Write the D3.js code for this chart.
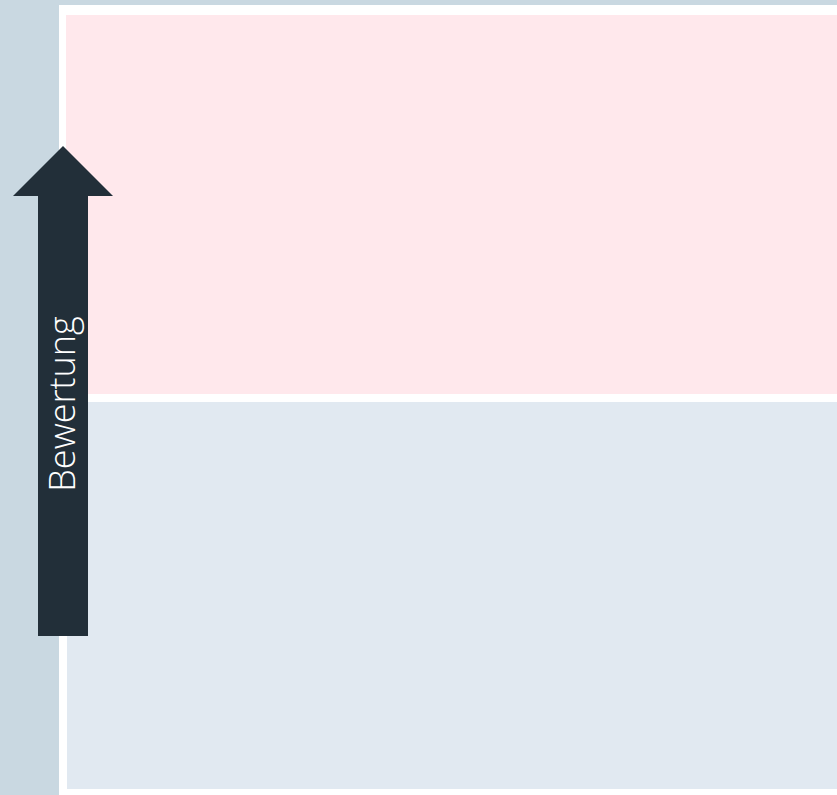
<!DOCTYPE html>
<html>
<head>
<meta charset="utf-8">
<script src="https://cdn.jsdelivr.net/npm/d3@7"></script>
<style>
  html, body { margin: 0; padding: 0; background: #c9d8e1; }
  svg { display: block; }
</style>
</head>
<body>
<svg id="chart" width="837" height="795"></svg>
<script>
// Data
const bandNames = ["hoch", "niedrig"];
const bandFrom = [50, 0];
const bandTo = [100, 50];
const bandColors = ["#ffe8ec", "#e1e9f1"];
const axisLabel = ["Bewertung"];

const W = 837, H = 795;
const svg = d3.select("#chart");

svg.append("rect").attr("width", W).attr("height", H).attr("fill", "#c9d8e1");
svg.append("rect").attr("x", 59).attr("y", 5).attr("width", W - 59).attr("height", H - 5).attr("fill", "#ffffff");

const y = d3.scaleLinear().domain([0, 100]).range([789, 15]);
const gap = 8;

svg.selectAll("rect.band").data(bandNames).join("rect")
  .attr("class", "band")
  .attr("x", (d, i) => i === 0 ? 66 : 67)
  .attr("y", (d, i) => y(bandTo[i]))
  .attr("width", (d, i) => W - (i === 0 ? 66 : 67))
  .attr("height", (d, i) => y(bandFrom[i]) - y(bandTo[i]) - (bandTo[i] < 100 ? 0 : gap))
  .attr("fill", (d, i) => bandColors[i]);

// Arrow
const ax = 63, tipY = 146, headY = 196, headHalf = 50, shaftHalf = 25, bottomY = 636;
const arrow = d3.path();
arrow.moveTo(ax, tipY);
arrow.lineTo(ax + headHalf, headY);
arrow.lineTo(ax + shaftHalf, headY);
arrow.lineTo(ax + shaftHalf, bottomY);
arrow.lineTo(ax - shaftHalf, bottomY);
arrow.lineTo(ax - shaftHalf, headY);
arrow.lineTo(ax - headHalf, headY);
arrow.closePath();
svg.append("path").attr("d", arrow.toString()).attr("fill", "#222f39");

svg.selectAll("text.axis").data(axisLabel).join("text")
  .attr("class", "axis")
  .attr("transform", "translate(75,404) rotate(-90)")
  .attr("text-anchor", "middle")
  .attr("fill", "#ffffff")
  .style("font-family", "'Open Sans', sans-serif")
  .style("font-weight", 300)
  .style("font-size", "36px")
  .text(d => d);
</script>
</body>
</html>
